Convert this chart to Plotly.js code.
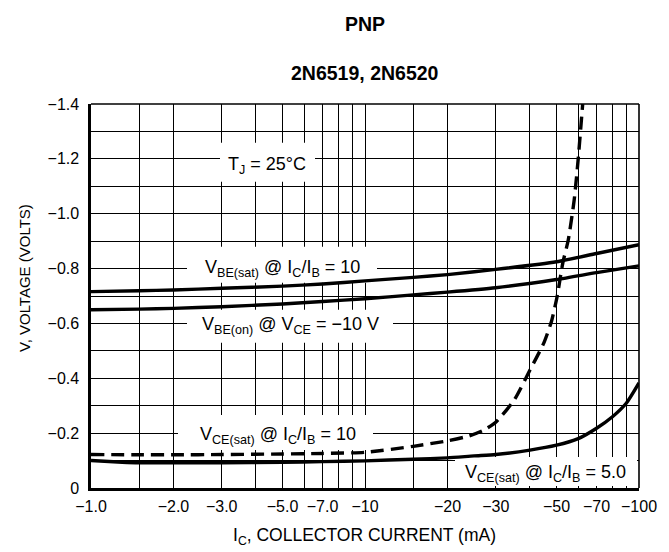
<!DOCTYPE html>
<html>
<head>
<meta charset="utf-8">
<script src="https://cdn.plot.ly/plotly-3.0.1.min.js"></script>
<style>html,body{margin:0;padding:0;background:#fff;}#chart{width:669px;height:552px;}</style>
</head>
<body>
<div id="chart"></div>
<script>
// Collector current magnitude (mA), voltages in volts (negative, PNP)
const icVbeSat = [1, 1.5, 2, 3, 5, 7, 10, 15, 20, 30, 50, 70, 100];
const vBeSat   = [-0.716, -0.719, -0.722, -0.728, -0.736, -0.744, -0.755, -0.768, -0.778, -0.797, -0.825, -0.855, -0.887];

const icVbeOn  = [1, 1.5, 2, 3, 5, 7, 10, 15, 20, 30, 50, 70, 100];
const vBeOn    = [-0.650, -0.652, -0.655, -0.661, -0.671, -0.680, -0.690, -0.704, -0.714, -0.730, -0.760, -0.785, -0.810];

const icVceSat10 = [1, 1.5, 2, 3, 5, 7, 10, 15, 20, 24, 27, 30, 35, 40, 45, 48, 50.3, 52.7, 55.2, 58, 60, 62.3];
const vCeSat10   = [-0.122, -0.121, -0.121, -0.122, -0.124, -0.126, -0.130, -0.152, -0.172, -0.190, -0.210, -0.240, -0.320, -0.430, -0.530, -0.610, -0.700, -0.820, -0.905, -1.050, -1.200, -1.400];

const icVceSat5 = [1, 1.3, 1.5, 2, 3, 5, 7, 10, 15, 20, 25, 30, 40, 50, 60, 70, 80, 90, 100];
const vCeSat5   = [-0.100, -0.094, -0.092, -0.092, -0.092, -0.094, -0.096, -0.099, -0.105, -0.110, -0.117, -0.122, -0.138, -0.156, -0.180, -0.218, -0.260, -0.310, -0.383];

const xTickVals = [1, 2, 3, 5, 7, 10, 20, 30, 50, 70, 100];
const xTickText = ["−1.0", "−2.0", "−3.0", "−5.0", "−7.0", "−10", "−20", "−30", "−50", "−70", "−100"];
const xMinorVals = [1.5, 4, 6, 8, 9, 15, 40, 60, 80, 90];
const yTickVals = [0, -0.2, -0.4, -0.6, -0.8, -1.0, -1.2, -1.4];
const yTickText = ["0", "−0.2", "−0.4", "−0.6", "−0.8", "−1.0", "−1.2", "−1.4"];
const yMinorVals = [-0.1, -0.3, -0.5, -0.7, -0.9, -1.1, -1.3];

const FONT = '"Liberation Sans", Arial, Helvetica, sans-serif';
const lineStyle = {color: '#000', width: 3.4, shape: 'spline', smoothing: 0.6};

const traces = [
  {x: icVbeSat, y: vBeSat, mode: 'lines', line: lineStyle, name: 'VBE(sat) @ IC/IB = 10'},
  {x: icVbeOn, y: vBeOn, mode: 'lines', line: lineStyle, name: 'VBE(on) @ VCE = -10 V'},
  {x: icVceSat10, y: vCeSat10, mode: 'lines', line: Object.assign({}, lineStyle, {dash: '13px,7px'}), name: 'VCE(sat) @ IC/IB = 10'},
  {x: icVceSat5, y: vCeSat5, mode: 'lines', line: lineStyle, name: 'VCE(sat) @ IC/IB = 5.0'}
];

// pixel helpers for layout placement (plot area 91..639 x 104..488)
const px = p => (p - 91) / 548;
const py = p => (488 - p) / 384;
const dx = p => Math.pow(10, (p - 91) / 274);  // current value at a pixel column
const vy = p => -(488 - p) / 274;              // voltage value at a pixel row

// white masks behind the curve labels (between gridlines and traces)
function mask(x0, x1, y0, y1) {
  return {type: 'rect', xref: 'x', yref: 'y', x0: dx(x0), x1: dx(x1), y0: vy(y1), y1: vy(y0),
          fillcolor: '#fff', line: {width: 0}, layer: 'between'};
}

const labelFont = {family: FONT, size: 18, color: '#000'};
function label(text, cx, cy) {
  return {text: text, xref: 'paper', yref: 'paper', x: px(cx), y: py(cy), showarrow: false,
          xanchor: 'center', yanchor: 'middle', font: labelFont};
}

const gridColor = '#000';
const layout = {
  width: 669, height: 552,
  margin: {l: 91, r: 30, t: 104, b: 64},
  paper_bgcolor: '#fff', plot_bgcolor: '#fff',
  showlegend: false,
  xaxis: {
    type: 'log', range: [0, 2], tickmode: 'array', tickvals: xTickVals, ticktext: xTickText,
    minor: {tickmode: 'array', tickvals: xMinorVals, showgrid: true, gridcolor: gridColor, gridwidth: 1, ticks: ''},
    showgrid: true, gridcolor: gridColor, gridwidth: 1,
    showline: true, linecolor: '#000', linewidth: 2.6,
    ticks: '', ticklabelstandoff: 2, zeroline: false,
    tickfont: {family: FONT, size: 16, color: '#000'}, fixedrange: true
  },
  yaxis: {
    range: [0, -1.4], tickmode: 'array', tickvals: yTickVals, ticktext: yTickText,
    minor: {tickmode: 'array', tickvals: yMinorVals, showgrid: true, gridcolor: gridColor, gridwidth: 1, ticks: ''},
    showgrid: true, gridcolor: gridColor, gridwidth: 1,
    showline: true, linecolor: '#000', linewidth: 2.6,
    ticks: '', ticklabelstandoff: 6, zeroline: false,
    tickfont: {family: FONT, size: 16, color: '#000'}, fixedrange: true
  },
  shapes: [
    mask(220, 315, 143, 182),
    mask(187, 377, 247, 283),
    mask(187, 393, 310, 343),
    mask(178, 373, 415, 450),
    mask(455, 637, 457, 486),
    {type: 'line', xref: 'paper', yref: 'paper', x0: 0, x1: 1, y0: 1, y1: 1, line: {color: '#000', width: 1.6}},
    {type: 'line', xref: 'paper', yref: 'paper', x0: 1, x1: 1, y0: 0, y1: 1, line: {color: '#000', width: 1.6}}
  ],
  annotations: [
    {text: '<b>PNP</b>', xref: 'paper', yref: 'paper', x: 0.5, y: py(24), showarrow: false, yanchor: 'middle',
     font: {family: FONT, size: 19.5, color: '#000'}},
    {text: '<b>2N6519, 2N6520</b>', xref: 'paper', yref: 'paper', x: 0.5, y: py(73), showarrow: false, yanchor: 'middle',
     font: {family: FONT, size: 19.5, color: '#000'}},
    label('T<sub>J</sub> = 25°C', 267, 165),
    label('V<sub>BE(sat)</sub> @ I<sub>C</sub>/I<sub>B</sub> = 10', 282, 268),
    label('V<sub>BE(on)</sub> @ V<sub>CE</sub> = −10 V', 290, 325),
    label('V<sub>CE(sat)</sub> @ I<sub>C</sub>/I<sub>B</sub> = 10', 278, 435),
    label('V<sub>CE(sat)</sub> @ I<sub>C</sub>/I<sub>B</sub> = 5.0', 545, 473),
    {text: 'I<sub>C</sub>, COLLECTOR CURRENT (mA)', xref: 'paper', yref: 'paper', x: px(364), y: py(536), showarrow: false,
     xanchor: 'center', yanchor: 'middle', font: {family: FONT, size: 17.5, color: '#000'}},
    {text: 'V, VOLTAGE (VOLTS)', xref: 'paper', yref: 'paper', x: px(24), y: py(278), showarrow: false,
     xanchor: 'center', yanchor: 'middle', textangle: -90, font: {family: FONT, size: 15, color: '#000'}}
  ]
};

Plotly.newPlot('chart', traces, layout, {displayModeBar: false, staticPlot: true});
</script>
</body>
</html>
